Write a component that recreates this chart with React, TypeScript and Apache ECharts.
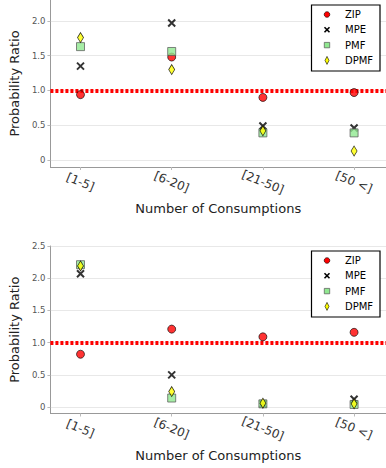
import React, { useEffect, useRef } from "react";
import * as echarts from "echarts";

const categories = ["[1-5]", "[6-20]", "[21-50]", "[50 <]"];
const seriesNames = ["ZIP", "MPE", "PMF", "DPMF"];

// top panel
const zipTop = [0.94, 1.48, 0.9, 0.97];
const mpeTop = [1.35, 1.97, 0.49, 0.46];
const pmfTop = [1.63, 1.56, 0.39, 0.39];
const dpmfTop = [1.76, 1.3, 0.42, 0.13];

// bottom panel
const zipBot = [0.82, 1.21, 1.09, 1.16];
const mpeBot = [2.07, 0.5, 0.05, 0.12];
const pmfBot = [2.21, 0.14, 0.05, 0.04];
const dpmfBot = [2.19, 0.24, 0.06, 0.05];

const yTicksTop = [0, 0.5, 1.0, 1.5, 2.0];
const yTicksBot = [0, 0.5, 1.0, 1.5, 2.0, 2.5];
const xTicks = [0, 1, 2, 3];

const FONT = "DejaVu Sans";
const CROSS = "path://M0,0L10,10M10,0L0,10";

const colors: any = {
  ZIP: { fill: "#ff0000", stroke: "#000" },
  MPE: { fill: "#000", stroke: "#000" },
  PMF: { fill: "#90e890", stroke: "#555" },
  DPMF: { fill: "#ffff00", stroke: "#000" },
};

const styles: any = {
  ZIP: { symbol: "circle", symbolSize: 8, itemStyle: { color: colors.ZIP.fill, borderColor: colors.ZIP.stroke, borderWidth: 0.8 } },
  MPE: { symbol: CROSS, symbolSize: 7, itemStyle: { color: colors.MPE.fill, borderColor: colors.MPE.stroke, borderWidth: 2 } },
  PMF: { symbol: "rect", symbolSize: 8, itemStyle: { color: colors.PMF.fill, borderColor: colors.PMF.stroke, borderWidth: 0.9 } },
  DPMF: { symbol: "diamond", symbolSize: [6, 10], itemStyle: { color: colors.DPMF.fill, borderColor: colors.DPMF.stroke, borderWidth: 0.8 } },
};

function yFmt(v: number) {
  return v === 0 ? "0" : v.toFixed(1);
}

function makeX(gridIndex: number) {
  return {
    type: "value",
    gridIndex,
    min: -0.33,
    max: 3.35,
    axisLine: { show: true, onZero: false, lineStyle: { color: "#999", width: 1 } },
    axisTick: { show: true, customValues: xTicks, length: 3, lineStyle: { color: "#bbb" } },
    axisLabel: {
      customValues: xTicks,
      formatter: (v: number) => categories[Math.round(v)] ?? "",
      rotate: -22,
      align: "center",
      verticalAlign: "middle",
      margin: 15,
      fontSize: 12,
      color: "#333",
      fontFamily: FONT,
    },
    splitLine: { show: false },
    name: "Number of Consumptions",
    nameLocation: "middle",
    nameGap: 35,
    nameTextStyle: { fontSize: 13, color: "#222", fontFamily: FONT },
  };
}

function makeY(gridIndex: number, max: number, ticks: number[]) {
  return {
    type: "value",
    gridIndex,
    min: -0.1,
    max,
    axisLine: { show: true, onZero: false, lineStyle: { color: "#999", width: 1 } },
    axisTick: { show: true, customValues: ticks, length: 3, lineStyle: { color: "#bbb" } },
    axisLabel: {
      customValues: ticks,
      formatter: yFmt,
      fontSize: 8.5,
      color: "#555",
      margin: 5,
      fontFamily: FONT,
    },
    splitLine: { show: false },
    name: "Probability Ratio",
    nameLocation: "middle",
    nameGap: 18,
    nameTextStyle: { fontSize: 13, color: "#222", fontFamily: FONT },
  };
}

function panelSeries(idx: number, vals: number[][], ticks: number[]) {
  const out: any[] = [];
  out.push({
    type: "scatter",
    xAxisIndex: idx,
    yAxisIndex: idx,
    data: [],
    silent: true,
    markLine: {
      silent: true,
      z: 0,
      symbol: ["none", "none"],
      label: { show: false },
      lineStyle: { color: "#e8e8e8", width: 1, type: "solid" },
      data: ticks.map((t) => ({ yAxis: t })),
    },
  });
  out.push({
    type: "scatter",
    xAxisIndex: idx,
    yAxisIndex: idx,
    data: [],
    silent: true,
    markLine: {
      silent: true,
      z: 1,
      symbol: ["none", "none"],
      label: { show: false },
      lineStyle: { color: "#ff0000", width: 4, type: [3, 2] },
      data: [{ yAxis: 1.0 }],
    },
  });
  seriesNames.forEach((name, k) => {
    out.push({
      type: "scatter",
      name,
      xAxisIndex: idx,
      yAxisIndex: idx,
      z: 3 + k,
      ...styles[name],
      data: vals[k].map((v, i) => [i, v]),
    });
  });
  return out;
}

// hand-built legend box (matplotlib style)
function legendGraphic(top: number) {
  const left = 311.5;
  const w = 68.5;
  const h = 66;
  const mx = 327;
  const tx = 345;
  const els: any[] = [
    {
      type: "rect",
      shape: { x: left, y: top, width: w, height: h },
      style: { fill: "#fff", stroke: "#000", lineWidth: 1.2 },
      z: 50,
    },
  ];
  seriesNames.forEach((name, i) => {
    const cy = top + 9.5 + 15.3 * i;
    const c = colors[name];
    if (name === "ZIP") {
      els.push({ type: "circle", shape: { cx: mx, cy, r: 2.8 }, style: { fill: c.fill, stroke: c.stroke, lineWidth: 0.6 }, z: 51 });
    } else if (name === "MPE") {
      els.push({ type: "line", shape: { x1: mx - 2.5, y1: cy - 2.5, x2: mx + 2.5, y2: cy + 2.5 }, style: { stroke: "#000", lineWidth: 1.6 }, z: 51 });
      els.push({ type: "line", shape: { x1: mx + 2.5, y1: cy - 2.5, x2: mx - 2.5, y2: cy + 2.5 }, style: { stroke: "#000", lineWidth: 1.6 }, z: 51 });
    } else if (name === "PMF") {
      els.push({ type: "rect", shape: { x: mx - 2.7, y: cy - 2.7, width: 5.4, height: 5.4 }, style: { fill: c.fill, stroke: c.stroke, lineWidth: 0.7 }, z: 51 });
    } else {
      els.push({
        type: "polygon",
        shape: { points: [[mx, cy - 4], [mx + 2, cy], [mx, cy + 4], [mx - 2, cy]] },
        style: { fill: c.fill, stroke: c.stroke, lineWidth: 0.6 },
        z: 51,
      });
    }
    els.push({
      type: "text",
      x: tx,
      y: cy,
      style: { text: name, fontSize: 10, fontFamily: FONT, fill: "#000", verticalAlign: "middle", align: "left" },
      z: 51,
    });
  });
  return els;
}

export default function App() {
  const ref = useRef<HTMLDivElement>(null);
  useEffect(() => {
    if (!ref.current) return;
    const chart = echarts.init(ref.current, undefined, { renderer: "svg" });
    chart.setOption({
      animation: false,
      backgroundColor: "#fff",
      textStyle: { fontFamily: FONT },
      grid: [
        { left: 48, right: 0, top: 0, height: 167 },
        { left: 48, right: 0, top: 246, height: 167.5 },
      ],
      xAxis: [makeX(0), makeX(1)],
      yAxis: [makeY(0, 2.3, yTicksTop), makeY(1, 2.5, yTicksBot)],
      series: [
        ...panelSeries(0, [zipTop, mpeTop, pmfTop, dpmfTop], yTicksTop),
        ...panelSeries(1, [zipBot, mpeBot, pmfBot, dpmfBot], yTicksBot),
      ],
      graphic: [...legendGraphic(5), ...legendGraphic(251)],
    });
    return () => chart.dispose();
  }, []);
  return (
    <div
      ref={ref}
      style={{ position: "fixed", left: 0, top: 0, width: 386, height: 468, background: "#fff" }}
    />
  );
}
